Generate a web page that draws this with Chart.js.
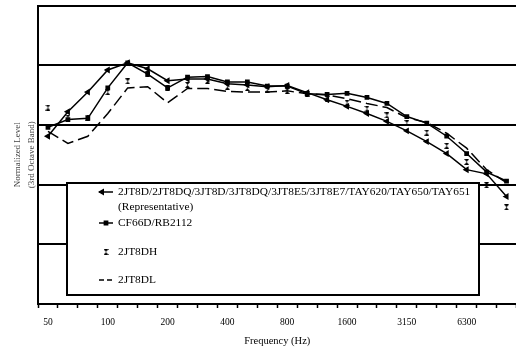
<!DOCTYPE html>
<html>
<head>
<meta charset="utf-8">
<script src="https://cdn.jsdelivr.net/npm/chart.js@4"></script>
<style>
  html, body { margin: 0; padding: 0; background: #fff; overflow: hidden; }
  #wrap { width: 516px; height: 351px; overflow: hidden; }
</style>
</head>
<body>
<div id="wrap"><canvas id="spectrumChart" width="522" height="351"></canvas></div>
<script>
// 1/3 octave bands
const bands = ['50', '63', '80', '100', '125', '160', '200', '250', '315', '400', '500', '630',
  '800', '1000', '1250', '1600', '2000', '2500', '3150', '4000', '5000', '6300', '8000', '10000'];
const tickLabels = ['50', '100', '200', '400', '800', '1600', '3150', '6300'];

const representative = [28.1, 32.2, 35.5, 39.2, 40.4, 39.4, 37.4, 37.7, 37.7, 36.9, 36.7, 36.4,
  36.6, 35.4, 34.2, 33.1, 31.9, 30.6, 29.0, 27.2, 25.2, 22.5, 21.8, 18.0];
const cf66d = [29.6, 30.9, 31.1, 36.2, 40.4, 38.5, 36.2, 38.0, 38.1, 37.2, 37.2, 36.5,
  36.5, 35.2, 35.1, 35.3, 34.6, 33.6, 31.4, 30.3, 28.1, 25.2, 22.1, 20.6];
const jt8dh = [32.9, 31.2, 31.2, 35.5, 37.3, 38.5, 36.2, 36.7, 37.4, 36.4, 36.2, 35.9,
  35.7, 35.2, 34.4, 33.7, 32.7, 31.6, 30.3, 28.7, 26.5, 23.8, 19.9, 16.2];
const jt8dl = [28.9, 26.9, 28.1, 31.9, 36.2, 36.4, 33.7, 36.1, 36.1, 35.6, 35.5, 35.5,
  35.7, 35.2, 35.0, 34.4, 33.6, 32.9, 31.2, 30.4, 28.6, 26.1, 22.5, 20.3];

const seriesNames = [
  ['2JT8D/2JT8DQ/3JT8D/3JT8DQ/3JT8E5/3JT8E7/TAY620/TAY650/TAY651', '(Representative)'],
  ['CF66D/RB2112'],
  ['2JT8DH'],
  ['2JT8DL']
];
const yTitle = ['Normalized Level', '(3rd Octave Band)'];

// small hourglass marker
function hourglass() {
  const c = document.createElement('canvas');
  c.width = 5; c.height = 6;
  const g = c.getContext('2d');
  g.fillStyle = '#000';
  g.beginPath(); g.moveTo(0, 0); g.lineTo(5, 0); g.lineTo(2.5, 3); g.closePath(); g.fill();
  g.beginPath(); g.moveTo(0, 6); g.lineTo(5, 6); g.lineTo(2.5, 3); g.closePath(); g.fill();
  return c;
}

// boxed legend drawn inside the plot
const boxLegend = {
  id: 'boxLegend',
  afterDraw(chart) {
    const ctx = chart.ctx;
    ctx.save();
    ctx.fillStyle = '#fff';
    ctx.fillRect(67, 183, 412, 112);
    ctx.strokeStyle = '#000';
    ctx.lineWidth = 2;
    ctx.strokeRect(67, 183, 412, 112);

    const rows = [192, 223, 252, 280];
    ctx.font = '11.4px "Liberation Serif"';
    ctx.textBaseline = 'middle';
    chart.data.datasets.forEach((ds, i) => {
      const y = rows[i];
      if (ds.showLine !== false) {
        ctx.strokeStyle = '#000';
        ctx.lineWidth = ds.borderWidth;
        ctx.setLineDash(ds.borderDash ? [5, 3] : []);
        ctx.beginPath(); ctx.moveTo(99, y); ctx.lineTo(113, y); ctx.stroke();
        ctx.setLineDash([]);
      }
      if (ds.pointRadius > 0) {
        ctx.fillStyle = '#000';
        Chart.helpers.drawPoint(ctx, {
          pointStyle: ds.pointStyle, radius: ds.pointRadius,
          rotation: ds.rotation || 0, borderWidth: 1
        }, i === 0 ? 102 : 106, y);
      }
      ctx.fillStyle = '#000';
      seriesNames[i].forEach((t, k) => ctx.fillText(t, 118, y + k * 15));
    });
    ctx.restore();
  }
};

const ctx = document.getElementById('spectrumChart');
new Chart(ctx, {
  type: 'line',
  data: {
    labels: bands,
    datasets: [{
      label: seriesNames[0][0],
      data: representative,
      borderColor: '#000', backgroundColor: '#000', borderWidth: 1.5,
      pointStyle: 'triangle', rotation: -90, pointRadius: 2.5, tension: 0
    }, {
      label: seriesNames[1][0],
      data: cf66d,
      borderColor: '#000', backgroundColor: '#000', borderWidth: 1.5,
      pointStyle: 'rect', pointRadius: 2.3, tension: 0
    }, {
      label: seriesNames[2][0],
      data: jt8dh,
      showLine: false,
      borderColor: '#000', backgroundColor: '#000', borderWidth: 1,
      pointStyle: hourglass(), pointRadius: 3
    }, {
      label: seriesNames[3][0],
      data: jt8dl,
      borderColor: '#000', borderWidth: 1.5, borderDash: [12, 5],
      pointRadius: 0, tension: 0
    }]
  },
  options: {
    responsive: false,
    animation: false,
    layout: { padding: { top: 3, left: 0, right: 0, bottom: 0 } },
    plugins: { legend: { display: false }, tooltip: { enabled: false } },
    scales: {
      x: {
        offset: true,
        grid: { offset: true, drawOnChartArea: false, drawTicks: true, tickLength: 4, tickWidth: 1.5, tickColor: '#000' },
        border: { color: '#000', width: 2 },
        ticks: {
          autoSkip: false, maxRotation: 0, padding: 9, color: '#000',
          font: { family: 'Liberation Serif', size: 9.5 },
          callback: (v, i) => tickLabels.includes(bands[i]) ? bands[i] : ''
        },
        title: {
          display: true, text: 'Frequency (Hz)', color: '#000',
          font: { family: 'Liberation Serif', size: 10.5 }, padding: { top: 0, bottom: 3 }
        },
        afterFit(s) { s.height = 47; }
      },
      y: {
        min: 0, max: 50,
        ticks: { display: false, stepSize: 10 },
        grid: { color: '#000', lineWidth: 2, drawTicks: false },
        border: { color: '#000', width: 2 },
        title: {
          display: true, text: yTitle, color: '#444',
          font: { family: 'Liberation Serif', size: 9, lineHeight: '14px' },
          padding: { top: 11, bottom: 0 }
        },
        afterFit(s) { s.width = 38; }
      }
    }
  },
  plugins: [boxLegend]
});
</script>
</body>
</html>
